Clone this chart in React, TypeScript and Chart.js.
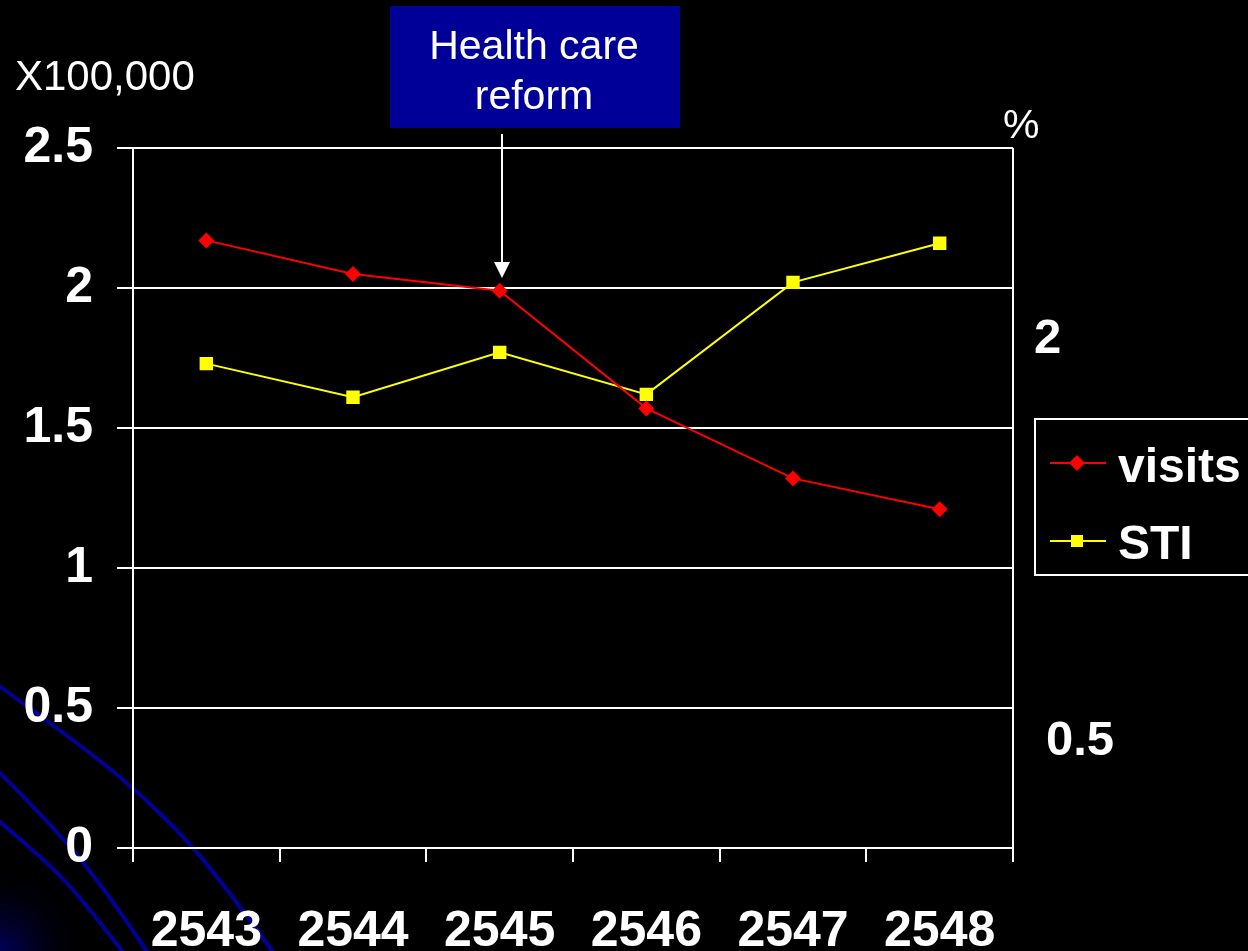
import React, { useEffect, useRef } from 'react';
import { Chart, registerables } from 'chart.js';

Chart.register(...registerables);

const categories = ['2543', '2544', '2545', '2546', '2547', '2548'];
const visits = [2.17, 2.05, 1.99, 1.57, 1.32, 1.21];
const sti = [1.73, 1.61, 1.77, 1.62, 2.02, 2.16];
const yMin = 0;
const yMax = 2.5;
const yStep = 0.5;
const seriesNames = ['visits', 'STI'];
const seriesColors = ['#ff0000', '#ffff00'];

const axisFont = "'Liberation Sans', Arial, sans-serif";
const textFont = "'Liberation Sans', Arial, sans-serif";

function smooth(ctx: CanvasRenderingContext2D, pts: number[][]) {
  ctx.beginPath();
  ctx.moveTo(pts[0][0], pts[0][1]);
  for (let i = 1; i < pts.length - 1; i++) {
    const mx = (pts[i][0] + pts[i + 1][0]) / 2;
    const my = (pts[i][1] + pts[i + 1][1]) / 2;
    ctx.quadraticCurveTo(pts[i][0], pts[i][1], mx, my);
  }
  const l = pts[pts.length - 1];
  ctx.lineTo(l[0], l[1]);
  ctx.stroke();
}

const decorPlugin = {
  id: 'decor',
  beforeDraw(chart: any) {
    const ctx: CanvasRenderingContext2D = chart.ctx;
    ctx.save();
    ctx.fillStyle = '#000';
    ctx.fillRect(0, 0, chart.width, chart.height);
    const g = ctx.createRadialGradient(0, chart.height, 0, 0, chart.height, 90);
    g.addColorStop(0, 'rgba(0,0,100,0.9)');
    g.addColorStop(1, 'rgba(0,0,0,0)');
    ctx.fillStyle = g;
    ctx.fillRect(0, chart.height - 100, 100, 100);
    ctx.strokeStyle = '#000099';
    ctx.lineWidth = 4;
    smooth(ctx, [[-5, 683], [67, 735], [133, 787], [190, 843], [233, 897], [276, 956]]);
    smooth(ctx, [[-5, 768], [60, 833], [110, 897], [150, 956]]);
    smooth(ctx, [[-5, 818], [45, 860], [80, 897], [126, 956]]);
    ctx.restore();
  },
  afterDraw(chart: any) {
    const ctx: CanvasRenderingContext2D = chart.ctx;
    const area = chart.chartArea;
    ctx.save();
    // right border
    ctx.strokeStyle = '#fff';
    ctx.lineWidth = 2;
    ctx.beginPath();
    ctx.moveTo(area.right, area.top);
    ctx.lineTo(area.right, area.bottom);
    ctx.stroke();

    // unit labels
    ctx.fillStyle = '#fff';
    ctx.font = `42px ${textFont}`;
    ctx.textAlign = 'left';
    ctx.textBaseline = 'alphabetic';
    ctx.fillText('X100,000', 15, 90);
    ctx.font = `41px ${textFont}`;
    ctx.fillText('%', 1003, 138);
    ctx.font = `bold 49px ${textFont}`;
    ctx.fillText('2', 1034, 353);
    ctx.fillText('0.5', 1046, 755);

    // annotation box
    ctx.fillStyle = '#000099';
    ctx.fillRect(390, 6, 290, 122);
    ctx.fillStyle = '#fff';
    ctx.font = `41px ${textFont}`;
    ctx.textAlign = 'center';
    ctx.fillText('Health care', 534, 59);
    ctx.fillText('reform', 534, 109);

    // arrow
    ctx.strokeStyle = '#fff';
    ctx.lineWidth = 2;
    ctx.beginPath();
    ctx.moveTo(502, 134);
    ctx.lineTo(502, 264);
    ctx.stroke();
    ctx.beginPath();
    ctx.moveTo(494, 262);
    ctx.lineTo(510, 262);
    ctx.lineTo(502, 278);
    ctx.closePath();
    ctx.fill();

    // legend
    ctx.strokeStyle = '#fff';
    ctx.lineWidth = 2;
    ctx.fillStyle = '#000';
    ctx.fillRect(1035, 419, 240, 156);
    ctx.strokeRect(1035, 419, 240, 156);
    const rows = [463, 541];
    const baselines = [482, 559];
    seriesNames.forEach((name, i) => {
      const y = rows[i];
      ctx.strokeStyle = seriesColors[i];
      ctx.fillStyle = seriesColors[i];
      ctx.lineWidth = 2;
      ctx.beginPath();
      ctx.moveTo(1050, y);
      ctx.lineTo(1106, y);
      ctx.stroke();
      if (i === 0) {
        ctx.beginPath();
        ctx.moveTo(1077, y - 8);
        ctx.lineTo(1085, y);
        ctx.lineTo(1077, y + 8);
        ctx.lineTo(1069, y);
        ctx.closePath();
        ctx.fill();
      } else {
        ctx.fillRect(1071, y - 6, 12, 12);
      }
      ctx.fillStyle = '#fff';
      ctx.font = `bold 48px ${textFont}`;
      ctx.textAlign = 'left';
      ctx.textBaseline = 'alphabetic';
      ctx.fillText(name, 1118, baselines[i]);
    });
    ctx.restore();
  },
};

export default function App() {
  const ref = useRef<HTMLCanvasElement>(null);
  useEffect(() => {
    if (!ref.current) return;
    const chart = new Chart(ref.current, {
      type: 'line',
      data: {
        labels: categories,
        datasets: [
          {
            label: seriesNames[0],
            data: visits,
            borderColor: seriesColors[0],
            backgroundColor: seriesColors[0],
            borderWidth: 2,
            pointStyle: 'rectRot',
            pointRadius: 8,
            pointBorderWidth: 0,
            tension: 0,
          },
          {
            label: seriesNames[1],
            data: sti,
            borderColor: seriesColors[1],
            backgroundColor: seriesColors[1],
            borderWidth: 2,
            pointStyle: 'rect',
            pointRadius: 9.5,
            pointBorderWidth: 0,
            tension: 0,
          },
        ],
      },
      options: {
        responsive: false,
        animation: false,
        layout: { padding: { top: 148, right: 235, left: 0, bottom: 0 } },
        plugins: {
          legend: { display: false },
          tooltip: { enabled: false },
        },
        scales: {
          x: {
            type: 'category',
            offset: true,
            grid: {
              display: true,
              offset: true,
              drawOnChartArea: false,
              drawTicks: true,
              tickLength: 14,
              color: '#fff',
              lineWidth: 2,
            },
            border: { display: true, color: '#fff', width: 2 },
            ticks: {
              color: '#fff',
              font: { family: axisFont, size: 50, weight: 'bold' },
              padding: 40,
              autoSkip: false,
              maxRotation: 0,
              minRotation: 0,
            },
            afterFit(scale: any) {
              scale.height = 103;
            },
          },
          y: {
            min: yMin,
            max: yMax,
            grid: {
              color: '#fff',
              lineWidth: 2,
              tickLength: 16,
            },
            border: { display: true, color: '#fff', width: 2 },
            ticks: {
              stepSize: yStep,
              color: '#fff',
              font: { family: axisFont, size: 50, weight: 'bold' },
              padding: 24,
              callback: (v: any) => String(Number(v)),
            },
            afterFit(scale: any) {
              scale.width = 133;
            },
          },
        },
      },
      plugins: [decorPlugin],
    });
    return () => chart.destroy();
  }, []);
  return (
    <div style={{ position: 'fixed', left: 0, top: 0, width: 1248, height: 951, background: '#000' }}>
      <canvas ref={ref} width={1248} height={951} style={{ display: 'block', width: 1248, height: 951 }} />
    </div>
  );
}
